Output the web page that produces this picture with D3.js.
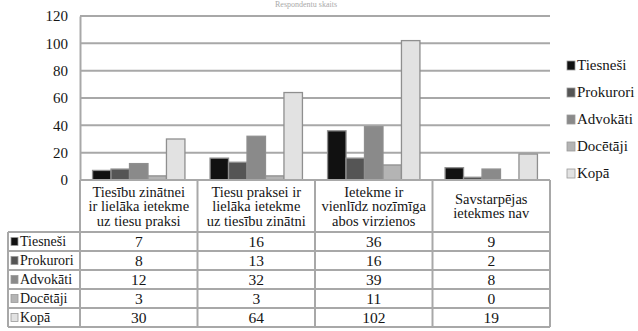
<!DOCTYPE html>
<html>
<head>
<meta charset="utf-8">
<script src="https://cdn.jsdelivr.net/npm/d3@7/dist/d3.min.js"></script>
<style>
  html, body { margin: 0; padding: 0; background: #fff; }
  svg { display: block; }
</style>
</head>
<body>
<svg id="chart" width="638" height="331"></svg>
<script>
// Categories (column headers, split into lines)
const categories = [
  ["Tiesību zinātnei", "ir lielāka ietekme", "uz tiesu praksi"],
  ["Tiesu praksei ir", "lielāka ietekme", "uz tiesību zinātni"],
  ["Ietekme ir", "vienlīdz nozīmīga", "abos virzienos"],
  ["Savstarpējas", "ietekmes nav"]
];
const seriesNames = ["Tiesneši", "Prokurori", "Advokāti", "Docētāji", "Kopā"];
const tiesnesi = [7, 16, 36, 9];
const prokurori = [8, 13, 16, 2];
const advokati = [12, 32, 39, 8];
const docetaji = [3, 3, 11, 0];
const kopa = [30, 64, 102, 19];
const yTicks = [0, 20, 40, 60, 80, 100, 120];
const axisTitle = "Respondentu skaits";

const seriesValues = [tiesnesi, prokurori, advokati, docetaji, kopa];
const colors = ["#111111", "#555555", "#8a8a8a", "#b4b4b4", "#e2e2e2"];
const gridColor = "#a8a8a8";
const textColor = "#151515";
const serif = "'Liberation Serif', 'DejaVu Serif', 'Times New Roman', serif";

const svg = d3.select("#chart").attr("font-family", serif);
const plot = { left: 80, right: 550, top: 16, bottom: 180 };

const y = d3.scaleLinear().domain([0, 120]).range([plot.bottom, plot.top]);
const x0 = d3.scaleBand().domain(d3.range(categories.length))
  .range([plot.left, plot.right]).paddingInner(0).paddingOuter(0);
const x1 = d3.scaleBand().domain(d3.range(seriesNames.length))
  .range([0, x0.bandwidth()]).paddingOuter(0.68).paddingInner(0);

// axis title
svg.append("text").attr("x", 306).attr("y", 7).attr("text-anchor", "middle")
  .attr("font-size", 8).attr("fill", "#aaa").text(axisTitle);

// gridlines
svg.append("g").selectAll("line").data(yTicks.filter(d => d > 0)).join("line")
  .attr("x1", plot.left).attr("x2", plot.right)
  .attr("y1", d => y(d)).attr("y2", d => y(d))
  .attr("stroke", gridColor).attr("stroke-width", 2);

// y axis
const yAxis = d3.axisLeft(y).tickValues(yTicks).tickSize(0).tickPadding(12);
const gy = svg.append("g").attr("transform", `translate(${plot.left},0)`).call(yAxis)
  .attr("font-family", serif).attr("font-size", 15);
gy.select(".domain").attr("stroke", gridColor).attr("stroke-width", 2);
gy.selectAll("text").attr("fill", textColor);

// bars
const groups = svg.append("g").selectAll("g").data(categories).join("g")
  .attr("transform", (d, i) => `translate(${x0(i)},0)`);
groups.selectAll("rect")
  .data((d, ci) => seriesValues.map((vals, si) => ({ si, v: vals[ci] })))
  .join("rect")
  .attr("x", d => x1(d.si))
  .attr("width", x1.bandwidth())
  .attr("y", d => y(d.v))
  .attr("height", d => Math.max(0, y(0) - y(d.v)))
  .attr("fill", d => colors[d.si])
  .attr("stroke", "#8f8f8f").attr("stroke-width", 1.3);

// data table
const headerBottom = 232;
const rowH = 19;
const tableLeft = 8;
const tableBottom = headerBottom + rowH * seriesNames.length;
const table = svg.append("g").attr("fill", textColor);

// x axis line (top of table)
table.append("line").attr("x1", plot.left).attr("x2", plot.right)
  .attr("y1", plot.bottom).attr("y2", plot.bottom)
  .attr("stroke", gridColor).attr("stroke-width", 2);

// vertical borders of data columns
const colEdges = d3.range(categories.length + 1).map(i => i < categories.length ? x0(i) : plot.right);
table.selectAll("line.v").data(colEdges).join("line").attr("class", "v")
  .attr("x1", d => d).attr("x2", d => d)
  .attr("y1", plot.bottom).attr("y2", tableBottom)
  .attr("stroke", gridColor).attr("stroke-width", 2);
table.append("line").attr("x1", tableLeft).attr("x2", tableLeft)
  .attr("y1", headerBottom).attr("y2", tableBottom)
  .attr("stroke", gridColor).attr("stroke-width", 2);

// horizontal row borders
table.selectAll("line.h").data(d3.range(seriesNames.length + 1)).join("line").attr("class", "h")
  .attr("x1", tableLeft).attr("x2", plot.right)
  .attr("y1", i => headerBottom + i * rowH).attr("y2", i => headerBottom + i * rowH)
  .attr("stroke", gridColor).attr("stroke-width", 2);

// column headers
categories.forEach((lines, ci) => {
  const cx = x0(ci) + x0.bandwidth() / 2;
  const lh = 14.5;
  const startY = (plot.bottom + headerBottom) / 2 - (lines.length - 1) * lh / 2 + 5;
  const t = table.append("text").attr("text-anchor", "middle").attr("font-size", 14.5);
  lines.forEach((ln, li) => {
    t.append("tspan").attr("x", cx).attr("y", startY + li * lh).text(ln);
  });
});

// row labels with legend keys, and cell values
seriesNames.forEach((name, si) => {
  const cy = headerBottom + si * rowH + rowH / 2;
  table.append("rect").attr("x", tableLeft + 3).attr("y", cy - 4).attr("width", 7).attr("height", 8)
    .attr("fill", colors[si]).attr("stroke", "#9a9a9a").attr("stroke-width", 0.8);
  table.append("text").attr("x", tableLeft + 12).attr("y", cy + 4.5)
    .attr("font-size", 14).text(name);
  seriesValues[si].forEach((v, ci) => {
    table.append("text").attr("x", x0(ci) + x0.bandwidth() / 2).attr("y", cy + 5.5)
      .attr("text-anchor", "middle").attr("font-size", 15.5).text(v);
  });
});

// legend
const legend = svg.append("g").attr("fill", textColor).selectAll("g").data(seriesNames).join("g")
  .attr("transform", (d, i) => `translate(567,${65 + i * 27})`);
legend.append("rect").attr("x", 0).attr("y", -4).attr("width", 8).attr("height", 9)
  .attr("fill", (d, i) => colors[i]).attr("stroke", "#9a9a9a").attr("stroke-width", 0.8);
legend.append("text").attr("x", 10).attr("y", 5).attr("font-size", 15).text(d => d);
</script>
</body>
</html>
